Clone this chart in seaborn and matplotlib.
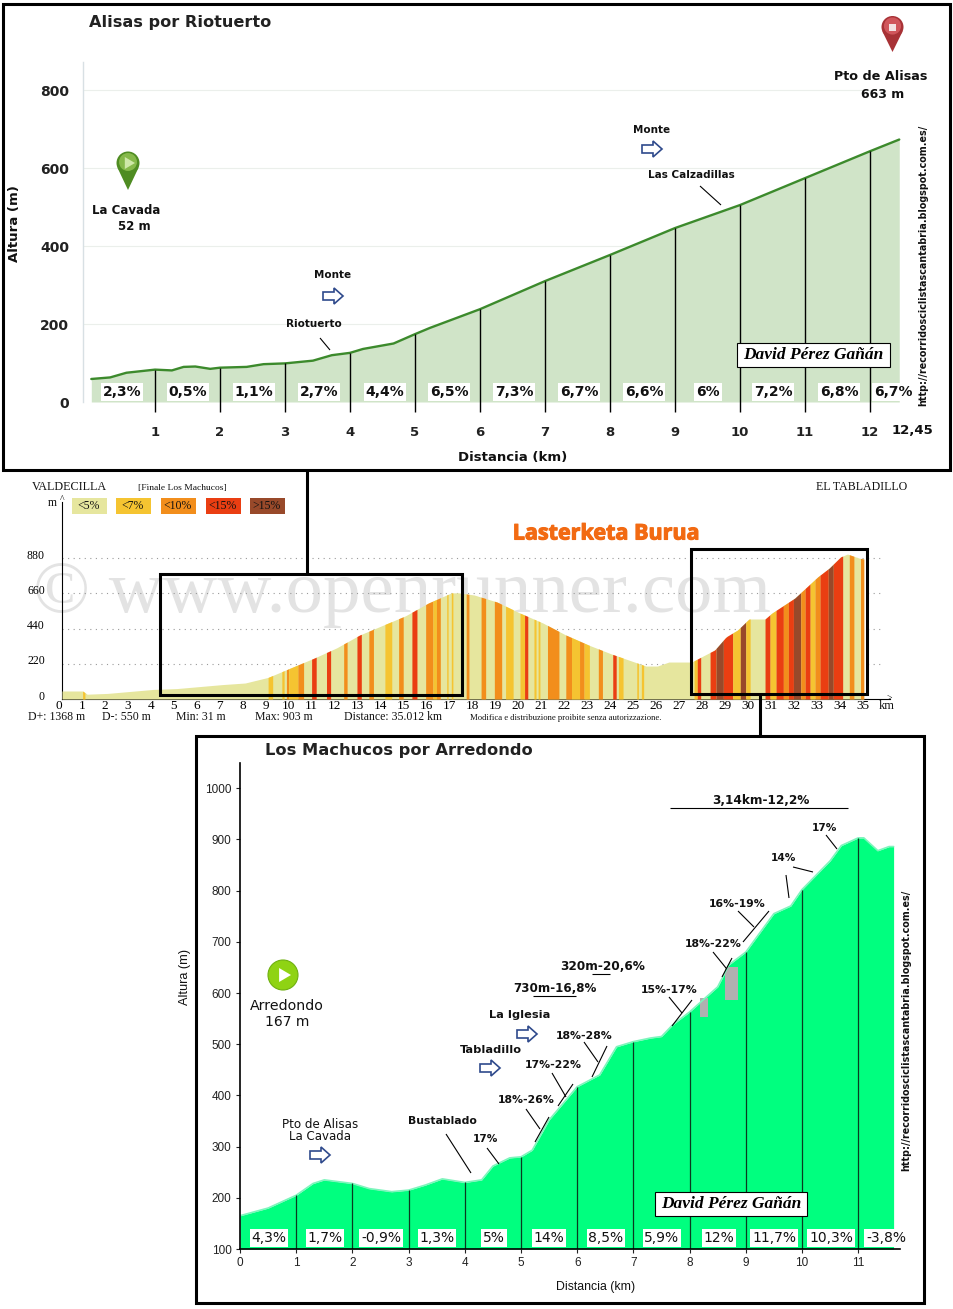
import numpy as np
import pandas as pd
import matplotlib
matplotlib.use('Agg')
import matplotlib.pyplot as plt
import matplotlib.patheffects as pe
from matplotlib.patches import Polygon, Circle, Rectangle
from matplotlib.transforms import ScaledTranslation
import seaborn as sns

# top profile: Alisas por Riotuerto
top_km = [0.02, 0.31, 0.56, 1, 1.26, 1.44, 1.62, 1.85, 2, 2.41, 2.67, 3, 3.43, 3.72, 4, 4.2, 4.67, 5, 5.23, 6, 7, 8, 9, 10, 11, 12, 12.45]
top_alt = [59, 63, 75, 83, 81, 90, 91, 85, 88, 90, 97, 99, 106, 120, 126, 136, 150, 174, 190, 238, 310, 377, 446, 505, 574, 643, 673]
top_pct = ['2,3%', '0,5%', '1,1%', '2,7%', '4,4%', '6,5%', '7,3%', '6,7%', '6,6%', '6%', '7,2%', '6,8%', '6,7%']
top_pct_x = [122, 188, 254, 319, 385, 449, 514, 579, 644, 708, 773, 839, 893]

# middle profile: whole stage
mid_km = [0, 0.9, 1.1, 2, 4, 5, 7, 8, 9, 10, 11, 12, 13, 14, 15, 16, 17, 17.3, 18, 19, 20, 21, 22, 23, 24, 25, 25.5, 26, 26.5, 27.5, 28, 28.5, 29, 29.5, 30, 30.7, 31, 32, 33, 33.5, 34, 34.3, 34.8, 35.012]
mid_alt = [50, 50, 30, 35, 60, 65, 90, 100, 135, 195, 255, 320, 400, 460, 520, 600, 663, 664, 650, 606, 537, 475, 400, 337, 281, 231, 206, 206, 231, 231, 269, 306, 388, 431, 500, 500, 537, 631, 763, 818, 888, 906, 881, 875]
mid_ticks = [0, 220, 440, 660, 880]
slope_names = ['<5%', '<7%', '<10%', '<15%', '>15%']
slope_colors = ['#E6E69E', '#F5C431', '#F28E1C', '#EA3E12', '#98492A']
# stripes: start km, end km, slope class (everything else is class 0)
strip_start = [0.9, 9.0, 9.6, 9.8, 9.9, 10.3, 10.9, 11.55, 12.3, 12.88, 13.4, 14.1, 14.7, 15.28, 15.88, 16.2, 16.35, 16.8, 17.0, 17.65,
               18.3, 18.88, 19.37, 20.0, 20.2, 20.61, 20.79, 21.2, 22.0, 22.25, 22.6, 22.8, 23.42, 24.05, 24.3, 25.1, 25.3,
               27.6, 27.74, 28.3, 28.56, 28.88, 29.29, 29.62, 29.86, 30.7, 30.92, 31.18, 31.5, 31.72, 31.94, 32.26, 32.45, 32.67, 32.88, 33.1, 33.46, 33.68, 34.38, 34.87]
strip_end = [1.0, 9.2, 9.7, 9.9, 10.3, 10.55, 11.1, 11.73, 12.45, 13.07, 13.6, 14.4, 14.9, 15.5, 16.2, 16.35, 16.52, 16.86, 17.07, 17.77,
             18.5, 19.2, 19.7, 20.2, 20.34, 20.7, 20.87, 21.7, 22.25, 22.6, 22.8, 23.03, 23.6, 24.2, 24.5, 25.17, 25.4,
             27.74, 27.89, 28.56, 28.88, 29.29, 29.62, 29.86, 30.05, 30.92, 31.18, 31.5, 31.72, 31.94, 32.26, 32.45, 32.67, 32.88, 33.1, 33.46, 33.68, 34.09, 34.58, 35.012]
strip_class = [1, 1, 1, 2, 1, 2, 3, 3, 2, 3, 2, 1, 2, 3, 2, 1, 2, 1, 1, 2,
               2, 2, 1, 1, 3, 1, 1, 2, 2, 1, 2, 1, 2, 3, 1, 1, 1,
               1, 3, 3, 4, 3, 1, 4, 1, 3, 1, 3, 2, 3, 4, 2, 3, 1, 2, 3, 4, 3, 2, 2]

# bottom profile: Los Machucos
bot_km = [0, 0.5, 1, 1.3, 1.5, 2, 2.3, 2.7, 3, 3.3, 3.6, 4, 4.3, 4.5, 4.8, 5, 5.2, 5.5, 6, 6.4, 6.7, 7, 7.3, 7.5, 7.7, 8, 8.5, 8.7, 9, 9.5, 9.8, 10, 10.5, 10.7, 11, 11.1, 11.35, 11.55, 11.63]
bot_alt = [165, 180, 205, 228, 235, 228, 218, 212, 215, 225, 237, 230, 235, 262, 278, 280, 293, 352, 417, 440, 495, 505, 512, 515, 538, 563, 612, 655, 680, 755, 770, 802, 858, 888, 903, 903, 878, 886, 886]
bot_pct = ['4,3%', '1,7%', '-0,9%', '1,3%', '5%', '14%', '8,5%', '5,9%', '12%', '11,7%', '10,3%', '-3,8%']
bot_pct_x = [269, 325, 381, 437, 494, 549, 606, 662, 719, 774, 831, 886]

W, H = 954, 1309
COMIC = 'DejaVu Sans'
SERIF = 'Liberation Serif'
ARIAL = 'Liberation Sans'

sns.set_theme(style='white')
plt.rcParams['font.family'] = [COMIC]

fig = plt.figure(figsize=(W / 100, H / 100), dpi=100, facecolor='white')


def px_axes(x0, y0, x1, y1):
    ax = fig.add_axes([x0 / W, 1 - y1 / H, (x1 - x0) / W, (y1 - y0) / H])
    ax.patch.set_alpha(0)
    return ax


# ---- top chart
ax1 = px_axes(83, 62, 915, 402)
df1 = pd.DataFrame({'km': top_km, 'alt': top_alt})
ax1.fill_between(df1['km'], df1['alt'], color='#D0E4C8', lw=0)
sns.lineplot(x='km', y='alt', data=df1, ax=ax1, color='#3C8A2C', lw=1.7, errorbar=None)
ax1.hlines([200, 400, 600, 800], -7 / 65, 12.1, color='#EBEFEB', lw=0.8, zorder=0)
k1 = np.arange(1, 13)
ax1.vlines(k1, -26, np.interp(k1, top_km, top_alt), color='black', lw=1, clip_on=False)
ax1.set_xticks(k1)
ax1.set_xticklabels(k1, fontsize=9.5, fontweight='bold', color='#222222')
ax1.set_yticks([0, 200, 400, 600, 800])
ax1.set_yticklabels([0, 200, 400, 600, 800], fontsize=10, fontweight='bold', color='#222222')
ax1.set_xlim(-7 / 65, 825 / 65)
ax1.set_ylim(0, 340 / 0.39)
ax1.tick_params(axis='x', length=0, pad=17)
ax1.tick_params(axis='y', length=0, pad=10)
ax1.set_xlabel('')
ax1.set_ylabel('')
for s in ['top', 'right', 'bottom']:
    ax1.spines[s].set_visible(False)
ax1.spines['left'].set_color('#D8E0E4')
ax1.spines['left'].set_linewidth(1)

# ---- middle chart, axes start 3 px left of km 0 so the km labels can sit off the profile
ax2 = px_axes(59, 502, 890, 699)
# set_position resets the ticks, so it has to come before they are set
ax2.spines['left'].set_position(('data', 0))
df2 = pd.DataFrame({'km': mid_km, 'alt': mid_alt})
ax2.hlines(mid_ticks[1:], 0, 35.7, color='#9A9A9A', lw=0.8, linestyles=(0, (1, 4)), zorder=1)
ax2.fill_between(df2['km'], df2['alt'], color=slope_colors[0], lw=0, zorder=3)
for a, b, c in zip(strip_start, strip_end, strip_class):
    xs = np.linspace(a, b, 6)
    ax2.fill_between(xs, np.interp(xs, mid_km, mid_alt), color=slope_colors[c], lw=0, zorder=4)
km_labels = np.arange(36)
ax2.set_xticks(km_labels * 1.003 - 0.13)
ax2.set_xticklabels(km_labels, fontsize=9.5, family=SERIF, color='black')
ax2.set_yticks(mid_ticks)
ax2.set_yticklabels(mid_ticks, fontsize=8.5, family=SERIF, color='black')
ax2.set_xlim(-3 / 22.9, 828 / 22.9)
ax2.set_ylim(0, 197 / 0.16)
ax2.tick_params(axis='x', length=0, pad=1)
ax2.tick_params(axis='y', length=0, pad=18)
for lab in ax2.get_yticklabels():
    lab.set_transform(lab.get_transform() + ScaledTranslation(8 / 100, 4 / 100, fig.dpi_scale_trans))
for s in ['top', 'right']:
    ax2.spines[s].set_visible(False)
for s in ['left', 'bottom']:
    ax2.spines[s].set_color('black')
    ax2.spines[s].set_linewidth(0.8)
ax2.spines['bottom'].set_bounds(0, 828 / 22.9)
ax2.set_zorder(2)

# ---- bottom chart
ax3 = px_axes(240, 763, 900, 1249)
df3 = pd.DataFrame({'km': bot_km, 'alt': bot_alt})
ax3.fill_between(df3['km'], df3['alt'], 100, color='#00FF7F', lw=0)
sns.lineplot(x='km', y='alt', data=df3, ax=ax3, color='#7DF5BC', lw=1.2, errorbar=None)
k3 = np.arange(1, 12)
ax3.vlines(k3, 100, np.interp(k3, bot_km, bot_alt), color='#0A3A20', lw=0.9)
ax3.bar([8.26, 8.745], [37, 65], bottom=[553, 586], width=[0.14, 0.23], color='#B0B0B0', lw=0)
ax3.set_xticks(range(0, 12))
ax3.set_xticklabels(range(0, 12), fontsize=8.5, family=ARIAL, color='#222222')
ax3.set_yticks(range(100, 1001, 100))
ax3.set_yticklabels(range(100, 1001, 100), fontsize=8.5, family=ARIAL, color='#222222')
ax3.set_xlim(0, 660 / 56.2)
ax3.set_ylim(100, 100 + 486 / 0.512)
ax3.tick_params(axis='both', length=3, width=0.8, color='#222222', bottom=True, left=True, pad=3)
ax3.set_xlabel('')
ax3.set_ylabel('')
for s in ['top', 'right']:
    ax3.spines[s].set_visible(False)
for s in ['left', 'bottom']:
    ax3.spines[s].set_color('black')
    ax3.spines[s].set_linewidth(1.2)

# ---- overlay in pixel coords for frames, labels and callouts
ov = fig.add_axes([0, 0, 1, 1], zorder=10)
ov.set_xlim(0, W)
ov.set_ylim(H, 0)
ov.axis('off')


def frame(x0, y0, x1, y1, lw=2.2):
    ov.add_patch(Rectangle((x0, y0), x1 - x0, y1 - y0, fill=False, ec='black', lw=lw))


def label(x, y, s, size=8, weight='bold', **kw):
    kw.setdefault('ha', 'center')
    return ov.text(x, y, s, fontsize=size, fontweight=weight, va='center', color=kw.pop('color', '#111111'), **kw)


def lines(*segs):
    for x0, y0, x1, y1 in segs:
        ov.plot([x0, x1], [y0, y1], color='black', lw=0.8, solid_capstyle='butt')


def arrow(x, y):
    pts = [(x - 10, y - 4), (x + 1, y - 4), (x + 1, y - 8), (x + 10, y), (x + 1, y + 8), (x + 1, y + 4), (x - 10, y + 4)]
    ov.add_patch(Polygon(pts, closed=True, fc='white', ec='#2F4A8C', lw=1.2))


def pin(x, y, r, tip, col, dark):
    # teardrop: dark shell with a lighter centre
    ov.add_patch(Polygon([(x - r * 0.92, y + r * 0.4), (x + r * 0.92, y + r * 0.4), (x, tip)], closed=True, fc=dark, ec='none'))
    ov.add_patch(Circle((x, y), r, fc=dark, ec='none'))
    ov.add_patch(Circle((x, y - 1), r * 0.78, fc=col, ec='none'))


def play(x, y, r=5, col='white'):
    ov.add_patch(Polygon([(x - r * 0.7, y - r), (x + r, y), (x - r * 0.7, y + r)], closed=True, fc=col, ec='none'))


def signature(x0, y0, x1, y1):
    ov.add_patch(Rectangle((x0, y0), x1 - x0, y1 - y0, fc='white', ec='black', lw=0.8))
    ov.text((x0 + x1) / 2, (y0 + y1) / 2, 'David Pérez Gañán', family=SERIF, style='italic', fontweight='bold',
            fontsize=12.5, ha='center', va='center', color='black')


frame(3, 4, 950, 470)
frame(160, 574, 462, 695)
frame(691, 549, 867, 694)
frame(196, 736, 924, 1303)
ov.plot([307, 307], [470, 574], color='black', lw=2.2)
ov.plot([760, 760], [694, 736], color='black', lw=2.2)

# top texts
label(180, 23, 'Alisas por Riotuerto', size=11.6, color='#222222')
label(15, 224, 'Altura (m)', size=9.5, rotation=90)
label(513, 457, 'Distancia (km)', size=9.5)
label(912, 430, '12,45', size=9.5)
for x, s in zip(top_pct_x, top_pct):
    ov.text(x, 392, s, fontsize=10, fontweight='bold', ha='center', va='center', color='#111111',
            bbox=dict(fc='white', ec='none', pad=1.5))
label(126, 210, 'La Cavada', size=8.5)
label(134, 226, '52 m', size=8.5)
label(881, 76, 'Pto de Alisas', size=9.2)
label(883, 94, '663 m', size=9)
label(333, 275, 'Monte', size=7.5)
arrow(333, 296)
label(314, 324, 'Riotuerto', size=7.5)
label(652, 130, 'Monte', size=7.5)
arrow(652, 149)
label(691, 175, 'Las Calzadillas', size=7.5)
lines((320, 338, 330, 350), (700, 186, 721, 205))
pin(128, 163, 11.5, 190, '#86B94A', '#4F8C22')
play(129, 163, 6, '#CFE8A8')
pin(892.5, 27, 11, 52, '#D0565B', '#A83236')
ov.add_patch(Rectangle((889, 24), 7, 7, fc='#F3E3E3', ec='none'))
label(923, 265, 'http://recorridosciclistascantabria.blogspot.com.es/', size=6.95, rotation=90)
signature(737, 343, 890, 367)

# middle texts
label(69.5, 487, 'VALDECILLA', size=8.7, weight='normal', family=SERIF)
label(182, 488, '[Finale Los Machucos]', size=6.8, weight='normal', family=SERIF)
label(862, 487, 'EL TABLADILLO', size=8.6, weight='normal', family=SERIF)
label(52, 503, 'm', size=8.5, weight='normal', family=SERIF)
t = label(606, 534, 'Lasterketa Burua', size=15.5, family='Open Sans', color='#F26A12', weight='bold')
t.set_path_effects([pe.withStroke(linewidth=0.8, foreground='#F26A12')])
label(887, 706, 'km', size=9, weight='normal', family=SERIF)
label(62, 500, '^', size=7, weight='normal', family=SERIF)
label(889, 698, '>', size=7, weight='normal', family=SERIF)
for x, s, c in zip([72, 116, 161, 206, 250], slope_names, slope_colors):
    ov.add_patch(Rectangle((x, 498), 35, 16, fc=c, ec='none'))
    label(x + 17, 506, s, size=8.5, weight='normal', family=SERIF)
for x, s in zip([57, 126, 201, 284, 393], ['D+: 1368 m', 'D-: 550 m', 'Min: 31 m', 'Max: 903 m', 'Distance: 35.012 km']):
    label(x, 717, s, size=8.5, weight='normal', family=SERIF)
label(566, 718, 'Modifica e distribuzione proibite senza autorizzazione.', size=6.2, weight='normal', family=SERIF)

# bottom texts
label(399, 751, 'Los Machucos por Arredondo', size=11.7, color='#222222')
label(185, 977, 'Altura (m)', size=9.2, weight='normal', family=ARIAL, rotation=90)
label(596, 1287, 'Distancia (km)', size=8.8, weight='normal', family=ARIAL)
for x, s in zip(bot_pct_x, bot_pct):
    ov.text(x, 1238, s, fontsize=10, ha='center', va='center', color='#111111',
            bbox=dict(fc='white', ec='none', pad=1.2))
ov.add_patch(Circle((283, 975), 15, fc='#8FD313', ec='#6FB010', lw=0.8))
play(284, 975, 7)
label(287, 1006, 'Arredondo', size=10.2, weight='normal')
label(287, 1022, '167 m', size=10, weight='normal')
label(320, 1124, 'Pto de Alisas', size=8.6, weight='normal')
label(320, 1137, 'La Cavada', size=8.5, weight='normal')
arrow(320, 1155)
arrow(527, 1034)
arrow(490, 1068)
for x, y, s, sz in [(761, 800, '3,14km-12,2%', 8.7), (825, 828, '17%', 7.6), (784, 858, '14%', 7.6), (737, 904, '16%-19%', 7.8), (713, 944, '18%-22%', 7.8),
                    (603, 966, '320m-20,6%', 8.7), (555, 988, '730m-16,8%', 8.6), (669, 990, '15%-17%', 7.8), (520, 1015, 'La Iglesia', 8.2),
                    (584, 1036, '18%-28%', 7.8), (491, 1050, 'Tabladillo', 8.2), (553, 1065, '17%-22%', 7.8), (526, 1100, '18%-26%', 7.8),
                    (442, 1121, 'Bustablado', 7.8), (486, 1139, '17%', 7.6)]:
    label(x, y, s, size=sz)
lines((670, 808, 848, 808), (826, 835, 837, 849), (793, 867, 813, 872), (786, 875, 789, 898),
      (738, 911, 754, 927), (769, 911, 743, 942), (713, 952, 726, 968), (732, 958, 722, 977),
      (592, 974, 610, 974), (533, 996, 576, 996), (669, 997, 682, 1013), (692, 1000, 672, 1026),
      (584, 1042, 598, 1062), (607, 1046, 592, 1077), (552, 1073, 566, 1097), (573, 1084, 558, 1106),
      (526, 1109, 540, 1129), (549, 1117, 535, 1142), (446, 1134, 471, 1173), (487, 1148, 499, 1164))
label(906, 1030, 'http://recorridosciclistascantabria.blogspot.com.es/', size=6.95, rotation=90)
signature(655, 1192, 807, 1216)

# watermark sits under the middle axes
fig.text(402 / W, 1 - 594 / H, '© www.openrunner.com', family=SERIF, fontsize=54, color='#E3E3E3',
         ha='center', va='center', zorder=1)

fig.savefig('out.png', dpi=100)
